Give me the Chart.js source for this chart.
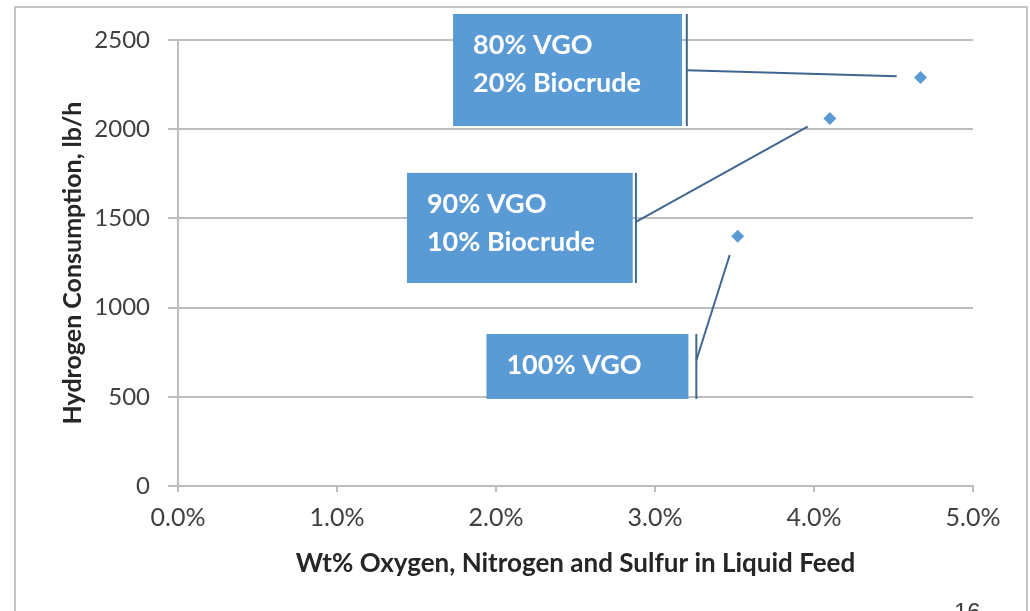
<!DOCTYPE html>
<html>
<head>
<meta charset="utf-8">
<script src="https://cdn.jsdelivr.net/npm/chart.js@4.4.1/dist/chart.umd.min.js"></script>
<style>
  html, body { margin: 0; padding: 0; background: #ffffff; }
  #wrap { width: 1030px; height: 611px; position: relative; }
</style>
</head>
<body>
<div id="wrap"><canvas id="c" width="1030" height="611"></canvas></div>
<script>
// Feed blends and measured hydrogen demand
const blends = ['100% VGO', '90% VGO\n10% Biocrude', '80% VGO\n20% Biocrude'];
const heteroatomWtPct = [3.52, 4.10, 4.67];      // wt% O + N + S in liquid feed
const h2ConsumptionLbH = [1400, 2060, 2290];     // lb/h
const xTicks = [0, 1, 2, 3, 4, 5];
const yTicks = [0, 500, 1000, 1500, 2000, 2500];

// Callout placement, in axis units (x: wt%, y: lb/h)
const calloutLayout = [
  { box: [1.94, 3.21, 852, 488], bar: 3.26, from: [3.26, 705], to: [3.47, 1295] },
  { box: [1.44, 2.86, 1755, 1138], bar: 2.88, from: [2.88, 1480], to: [3.96, 2015] },
  { box: [1.73, 3.17, 2646, 2018], bar: 3.20, from: [3.20, 2330], to: [4.52, 2297] }
];

const BLUE = '#5b9bd5';
const LEADER = '#3f6790';
const GRID = '#bdbdbd';
const TICK_TEXT = '#404040';

const points = heteroatomWtPct.map((x, i) => ({ x: x, y: h2ConsumptionLbH[i] }));

const callouts = {
  id: 'callouts',
  afterDatasetsDraw(chart) {
    const { ctx } = chart;
    const xs = chart.scales.x, ys = chart.scales.y;
    ctx.save();
    calloutLayout.forEach((c, i) => {
      const l = xs.getPixelForValue(c.box[0]);
      const r = xs.getPixelForValue(c.box[1]);
      const t = ys.getPixelForValue(c.box[2]);
      const b = ys.getPixelForValue(c.box[3]);
      ctx.fillStyle = BLUE;
      ctx.fillRect(l, t, r - l, b - t);
      // bracket bar beside the box
      const bx = xs.getPixelForValue(c.bar);
      ctx.strokeStyle = LEADER;
      ctx.lineWidth = 2;
      ctx.beginPath();
      ctx.moveTo(bx, t);
      ctx.lineTo(bx, b);
      ctx.stroke();
      // leader toward the point
      ctx.beginPath();
      ctx.moveTo(xs.getPixelForValue(c.from[0]), ys.getPixelForValue(c.from[1]));
      ctx.lineTo(xs.getPixelForValue(c.to[0]), ys.getPixelForValue(c.to[1]));
      ctx.stroke();
      // label text
      ctx.fillStyle = '#ffffff';
      ctx.font = 'bold 27px Lato';
      ctx.textBaseline = 'alphabetic';
      ctx.textAlign = 'left';
      blends[i].split('\n').forEach((line, k) => {
        ctx.fillText(line, l + 20, t + 40 + k * 38);
      });
    });
    ctx.restore();
  }
};

const frame = {
  id: 'frame',
  afterDraw(chart) {
    const { ctx } = chart;
    ctx.save();
    ctx.strokeStyle = '#c4c4c4';
    ctx.lineWidth = 2;
    ctx.beginPath();
    ctx.moveTo(15, 620);
    ctx.lineTo(15, 7);
    ctx.lineTo(1027, 7);
    ctx.lineTo(1027, 620);
    ctx.stroke();
    ctx.fillStyle = '#404040';
    ctx.font = '24px "Liberation Sans"';
    ctx.textBaseline = 'top';
    ctx.textAlign = 'left';
    ctx.fillText('16', 954, 601);
    ctx.restore();
  }
};

new Chart(document.getElementById('c'), {
  type: 'scatter',
  data: {
    datasets: [{
      data: points,
      pointStyle: 'rectRot',
      pointRadius: 6.5,
      pointHoverRadius: 6.5,
      backgroundColor: BLUE,
      borderColor: BLUE,
      borderWidth: 0
    }]
  },
  options: {
    responsive: false,
    animation: false,
    events: [],
    layout: { padding: { left: 0, right: 57, top: 40, bottom: 0 } },
    plugins: { legend: { display: false }, tooltip: { enabled: false } },
    scales: {
      x: {
        type: 'linear',
        min: 0, max: 5,
        afterBuildTicks: s => { s.ticks = xTicks.map(v => ({ value: v })); },
        afterFit: s => { s.height = 125; },
        ticks: {
          callback: v => v.toFixed(1) + '%',
          color: TICK_TEXT,
          font: { family: 'Lato', size: 25 },
          padding: 11,
          maxRotation: 0
        },
        grid: { drawOnChartArea: false, drawTicks: true, tickLength: 6, color: GRID, lineWidth: 2 },
        border: { color: GRID, width: 2 },
        title: {
          display: true,
          text: 'Wt% Oxygen, Nitrogen and Sulfur in Liquid Feed',
          color: '#262626',
          font: { family: 'Lato', size: 26, weight: 'bold' },
          padding: { top: 0, bottom: 32 }
        }
      },
      y: {
        type: 'linear',
        min: 0, max: 2500,
        afterBuildTicks: s => { s.ticks = yTicks.map(v => ({ value: v })); },
        afterFit: s => { s.width = 178; },
        ticks: {
          callback: v => String(v),
          color: TICK_TEXT,
          font: { family: 'Lato', size: 24 },
          padding: 18
        },
        grid: { color: GRID, lineWidth: 2, drawTicks: true, tickLength: 10 },
        border: { color: GRID, width: 2 },
        title: {
          display: true,
          text: 'Hydrogen Consumption, lb/h',
          color: '#262626',
          font: { family: 'Lato', size: 25, weight: 'bold' },
          padding: { top: 58, bottom: 0 }
        }
      }
    }
  },
  plugins: [callouts, frame]
});
</script>
</body>
</html>
